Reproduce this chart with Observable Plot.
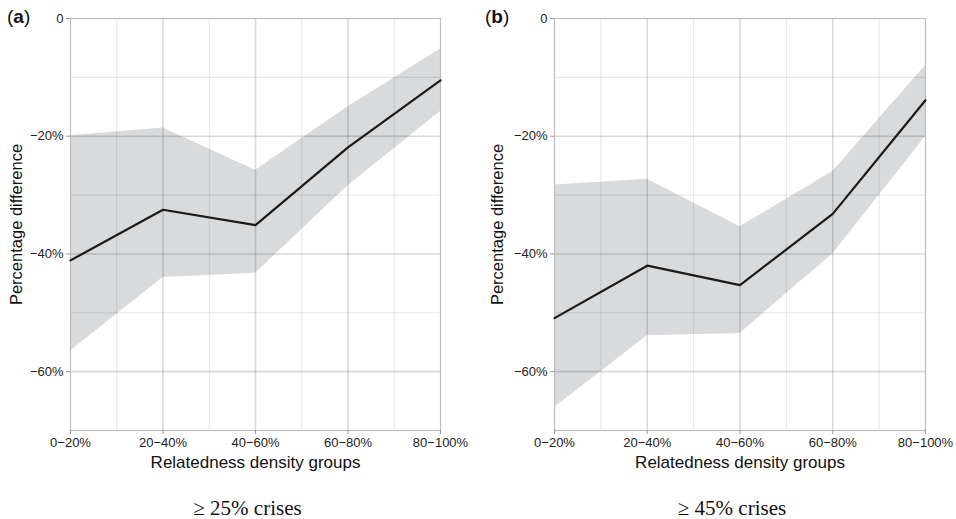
<!DOCTYPE html>
<html><head><meta charset="utf-8">
<script src="https://cdn.jsdelivr.net/npm/d3@7"></script>
<script src="https://cdn.jsdelivr.net/npm/@observablehq/plot@0.6"></script>
<style>
body{margin:0;background:#fff;}
#wrap{position:relative;width:956px;height:519px;display:flex;}
.panel{position:relative;width:478px;height:519px;}
.panel svg{display:block;}
.plab{position:absolute;top:5px;font:19px "Liberation Sans",Arial,sans-serif;color:#111;line-height:24px;}
</style></head><body>
<div id="wrap"></div>
<script>
const groups = ["0−20%","20−40%","40−60%","60−80%","80−100%"];
const meanA  = [-41.1,-32.5,-35.1,-21.9,-10.5];
const upperA = [-19.9,-18.6,-25.8,-15.0,-5.2];
const lowerA = [-56.5,-44.0,-43.3,-28.4,-15.8];
const meanB  = [-50.9,-42.0,-45.3,-33.2,-13.9];
const upperB = [-28.3,-27.3,-35.4,-26.0,-8.0];
const lowerB = [-66.1,-53.9,-53.5,-40.0,-20.1];
const yTicks = [0,-20,-40,-60];
const yMinor = [-10,-30,-50];
const yMajorGrid = [-20,-40,-60];
const xMinor = [0.5,1.5,2.5,3.5];
const xMajorGrid = [1,2,3];
const panelLabels = ["a","b"];
const captions = ["≥ 25% crises","≥ 45% crises"];
const yLabel = "Percentage difference";
const xLabel = "Relatedness density groups";

const panels = [
  {mean:meanA, upper:upperA, lower:lowerA, ml:70, mr:38, ylx:-54},
  {mean:meanB, upper:upperB, lower:lowerB, ml:76, mr:31, ylx:-57}
];
const wrap = document.getElementById("wrap");
panels.forEach((p,k) => {
  const rows = groups.map((g,i) => ({i, g, m:p.mean[i], hi:p.upper[i], lo:p.lower[i]}));
  const fmt = d => d === 0 ? "0" : "−" + (-d) + "%";
  const chart = Plot.plot({
    width: 478, height: 519,
    marginTop: 18, marginBottom: 89, marginLeft: p.ml, marginRight: p.mr,
    style: {fontFamily: "'Liberation Sans', Arial, sans-serif", fontSize: "13px", background: "#fff"},
    x: {domain: [0,4]},
    y: {domain: [-70,0]},
    marks: [
      Plot.areaY(rows, {x:"i", y1:"lo", y2:"hi", fill:"#d9dadc"}),
      Plot.ruleY(yMinor, {stroke:"#000", strokeOpacity:0.1, strokeWidth:1}),
      Plot.ruleX(xMinor, {stroke:"#000", strokeOpacity:0.1, strokeWidth:1}),
      Plot.ruleY(yMajorGrid, {stroke:"#000", strokeOpacity:0.15, strokeWidth:1.6}),
      Plot.ruleX(xMajorGrid, {stroke:"#000", strokeOpacity:0.15, strokeWidth:1.6}),
      Plot.frame({stroke:"#bdbdbd", strokeWidth:1.2}),
      Plot.lineY(rows, {x:"i", y:"m", stroke:"#1a1a1a", strokeWidth:2.2}),
      Plot.axisY({ticks:yTicks, tickFormat:fmt, tickSize:4, tickPadding:3, stroke:"#999", fill:"#222", fontSize:13, label:null}),
      Plot.axisX({ticks:[0,1,2,3,4], tickFormat:i => groups[i], tickSize:4, tickPadding:3, stroke:"#999", fill:"#222", fontSize:13, label:null}),
      Plot.text([yLabel], {frameAnchor:"left", dx:p.ylx, rotate:-90, textAnchor:"middle", lineAnchor:"middle", fontSize:16.5, fill:"#111"}),
      Plot.text([xLabel], {frameAnchor:"bottom", dy:32, textAnchor:"middle", lineAnchor:"middle", fontSize:17, fill:"#111"}),
      Plot.text([captions[k]], {frameAnchor:"bottom", dy:78, dx:-8, textAnchor:"middle", lineAnchor:"middle", fontSize:21, fill:"#111", fontFamily:"'Liberation Serif','Times New Roman',serif"})
    ]
  });
  const div = document.createElement("div");
  div.className = "panel";
  div.appendChild(chart);
  const lab = document.createElement("div");
  lab.className = "plab";
  lab.style.left = "7px";
  lab.innerHTML = "(<b>" + panelLabels[k] + "</b>)";
  div.appendChild(lab);
  wrap.appendChild(div);
});
</script>
</body></html>
